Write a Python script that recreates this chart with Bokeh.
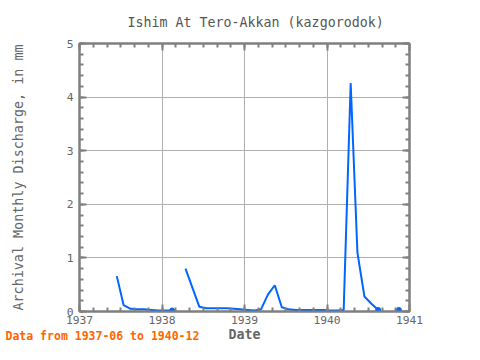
import numpy as np
import pandas as pd
from bokeh.plotting import figure
from bokeh.models import LinearAxis, FixedTicker, ColumnDataSource
from bokeh.core.properties import value
from bokeh.embed import file_html
from bokeh.resources import INLINE

nan = float("nan")

months = pd.period_range("1937-06", "1940-12", freq="M").strftime("%Y-%m").tolist()
discharge = [
    0.66, 0.12, 0.05, 0.04, 0.04, 0.03, 0.02,                        # 1937 Jun-Dec
    0.02, 0.02, nan, 0.80, 0.45, 0.09, 0.06, 0.06, 0.06, 0.06, 0.05, 0.04,  # 1938
    0.03, 0.02, 0.04, 0.32, 0.49, 0.08, 0.04, 0.03, 0.03, 0.03, 0.03, 0.03,  # 1939
    0.02, 0.02, 0.03, 4.26, 1.10, 0.28, 0.15, 0.03, nan, nan, 0.03, nan,     # 1940
]
x_ticks = [1937, 1938, 1939, 1940, 1941]
y_ticks = [0, 1, 2, 3, 4, 5]

title_text = "Ishim At Tero-Akkan (kazgorodok)"
y_label = "Archival Monthly Discharge, in mm"
x_label = "Date"
footer_text = "Data from 1937-06 to 1940-12"

# decimal-year position of the middle of each month
dates = pd.to_datetime([m + "-15" for m in months])
xs = np.array([d.year + (d.dayofyear - 1) / (366 if d.is_leap_year else 365) for d in dates])
ys = np.array(discharge, dtype=float)

# points that end a run (next value missing)
nxt = np.append(ys[1:], nan)
end_mask = ~np.isnan(ys) & np.isnan(nxt)

FONT = "DejaVu Sans Mono"
GRAY = "#666666"
FRAME = "#808080"

p = figure(width=464, height=344, output_backend="svg", toolbar_location=None,
           x_range=(x_ticks[0], x_ticks[-1]), y_range=(y_ticks[0], y_ticks[-1]),
           min_border_left=79, min_border_right=55, min_border_top=43, min_border_bottom=32)

p.title.text = title_text
p.title.align = "left"
p.title.offset = 48
p.title.text_font = FONT
p.title.text_font_size = "13.3px"
p.title.text_font_style = "normal"
p.title.text_color = "#555555"
p.title.vertical_align = "top"
p.title.standoff = 24

p.outline_line_color = FRAME
p.outline_line_width = 2
p.background_fill_color = "white"
p.border_fill_color = "white"


def style_ticks(ax):
    ax.axis_line_color = FRAME
    ax.axis_line_width = 2
    ax.major_tick_line_color = FRAME
    ax.minor_tick_line_color = FRAME
    ax.major_tick_line_width = 2
    ax.minor_tick_line_width = 2
    ax.major_tick_in = 7
    ax.major_tick_out = 0
    ax.minor_tick_in = 4
    ax.minor_tick_out = 0


for ax in (p.xaxis[0], p.yaxis[0]):
    style_ticks(ax)
    ax.major_label_text_font = FONT
    ax.major_label_text_font_size = "11.3px"
    ax.major_label_text_color = GRAY
    ax.axis_label_text_font = FONT
    ax.axis_label_text_color = GRAY

p.xaxis[0].ticker = FixedTicker(ticks=x_ticks, minor_ticks=list(np.arange(1937, 1941.01, 1/6)))
p.yaxis[0].ticker = FixedTicker(ticks=y_ticks, minor_ticks=list(np.arange(0, 5.01, 0.2)))
p.xaxis[0].axis_label = x_label
p.xaxis[0].axis_label_text_font_size = "13.3px"
p.xaxis[0].axis_label_text_font_style = "bold"
p.xaxis[0].axis_label_standoff = 0
p.xaxis[0].major_label_standoff = 4
p.yaxis[0].axis_label = y_label
p.yaxis[0].axis_label_text_font_size = "13.4px"
p.yaxis[0].axis_label_text_font_style = "normal"
p.yaxis[0].axis_label_standoff = 38
p.yaxis[0].major_label_standoff = 6

for loc, tk, ticks in (("above", p.xaxis[0].ticker, x_ticks), ("right", p.yaxis[0].ticker, y_ticks)):
    ax = LinearAxis(ticker=tk)
    style_ticks(ax)
    ax.major_label_overrides = {t: "" for t in ticks}
    ax.major_label_standoff = 0
    p.add_layout(ax, loc)

p.xgrid.ticker = FixedTicker(ticks=x_ticks)
p.ygrid.ticker = FixedTicker(ticks=y_ticks)
p.grid.grid_line_color = "#b0b0b0"
p.grid.grid_line_width = 1

src = ColumnDataSource(dict(x=xs, y=ys))
p.line("x", "y", source=src, line_color="#0066ff", line_width=2)
p.scatter(xs[end_mask], ys[end_mask], size=5, color="#0066ff")

# footer note, anchored at the lower-left corner of the plot frame (not clipped: overlay level)
p.text(x=[p.x_range.start], y=[p.y_range.start], text=[footer_text],
       x_offset=-74, y_offset=31, text_font=value(FONT), text_font_size="11.5px",
       text_font_style="bold", text_color="#ff6600", text_baseline="bottom",
       text_align="left", level="overlay")

open("out.html", "w").write(file_html(p, INLINE))
